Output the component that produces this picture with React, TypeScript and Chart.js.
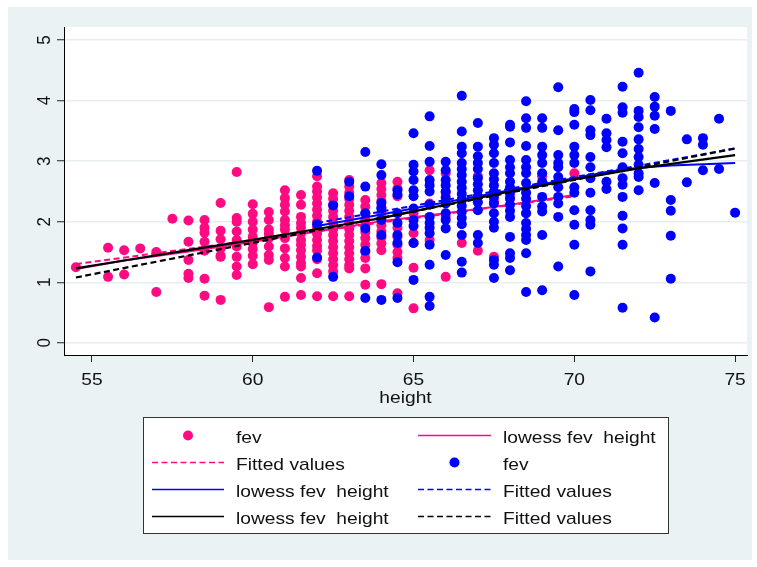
import React, { useEffect, useRef } from "react";
import { Chart, registerables } from "chart.js";

Chart.register(...registerables);

// ---------- data ----------
const xTicks = [55, 60, 65, 70, 75];
const yTicks = [0, 1, 2, 3, 4, 5];
const xTitle = "height";

const femaleHeights = [54.5, 55.5, 56, 56.5, 57, 57.5, 58, 58.5, 59, 59.5, 60, 60.5, 61, 61.5, 62, 62.5, 63, 63.5, 64, 64.5, 65, 65.5, 66, 66.5, 67, 67.5, 68, 68.5, 69, 70];
const femaleFev = [
  [1.25],
  [1.57, 1.09],
  [1.53, 1.13],
  [1.56],
  [1.5, 0.84],
  [2.05],
  [2.02, 1.67, 1.37, 1.14, 1.07],
  [2.03, 1.9, 1.82, 1.67, 1.52, 1.06, 0.78],
  [2.31, 1.85, 1.71, 1.56, 1.44, 1.42, 0.71],
  [2.82, 2.06, 2.0, 1.84, 1.7, 1.59, 1.42, 1.26, 1.12],
  [2.29, 2.13, 2.0, 1.87, 1.75, 1.65, 1.55, 1.44, 1.3],
  [2.16, 2.03, 1.87, 1.8, 1.73, 1.59, 1.45, 1.37, 0.59],
  [2.52, 2.39, 2.28, 2.17, 2.03, 1.94, 1.87, 1.73, 1.56, 1.4, 1.26, 0.76],
  [2.44, 2.28, 2.08, 1.98, 1.9, 1.81, 1.7, 1.62, 1.53, 1.42, 1.32, 1.26, 1.07, 0.79],
  [2.75, 2.58, 2.5, 2.4, 2.3, 2.2, 2.1, 2.0, 1.9, 1.8, 1.7, 1.6, 1.53, 1.38, 1.15, 0.77],
  [2.47, 2.38, 2.28, 2.18, 2.08, 1.98, 1.88, 1.78, 1.68, 1.58, 1.48, 1.38, 1.28, 1.18, 0.77],
  [2.69, 2.58, 2.48, 2.38, 2.28, 2.18, 2.08, 1.98, 1.88, 1.78, 1.68, 1.58, 1.48, 1.38, 1.28, 1.23, 0.77],
  [2.36, 2.25, 2.14, 2.03, 1.93, 1.83, 1.73, 1.62, 1.5, 1.4, 1.23, 0.96],
  [2.64, 2.54, 2.44, 2.34, 2.24, 2.14, 2.04, 1.94, 1.84, 1.74, 1.64, 1.53, 0.97],
  [2.66, 2.55, 2.42, 1.9, 1.75, 1.62, 1.5, 1.4, 0.82],
  [2.14, 1.81, 1.65, 1.24, 0.57],
  [2.85, 2.3, 1.7],
  [2.8, 2.48, 2.08, 1.09],
  [1.65],
  [2.75, 1.52],
  [2.33, 1.42],
  [2.41],
  [2.14],
  [2.75],
  [2.8],
];

const maleHeights = [62, 62.5, 63, 63.5, 64, 64.5, 65, 65.5, 66, 66.5, 67, 67.5, 68, 68.5, 69, 69.5, 70, 70.5, 71, 71.5, 72, 72.5, 73, 73.5, 74, 74.5, 75];
const maleFev = [
  [2.84, 1.96, 1.41],
  [2.27, 1.09],
  [2.66, 2.42],
  [3.15, 2.58, 2.14, 1.89, 1.52, 0.74],
  [2.95, 2.77, 2.31, 2.22, 2.03, 1.78, 0.71],
  [2.52, 2.45, 2.14, 1.98, 1.78, 1.65, 1.33, 0.74],
  [3.46, 2.94, 2.83, 2.69, 2.52, 2.42, 2.22, 2.03, 1.93, 1.65, 1.04],
  [3.74, 3.25, 2.99, 2.69, 2.6, 2.5, 2.28, 2.08, 1.98, 1.9, 1.81, 1.62, 1.29, 0.76, 0.61],
  [2.99, 2.85, 2.69, 2.6, 2.5, 2.4, 2.3, 2.14, 2.03, 1.89, 1.45],
  [4.08, 3.49, 3.24, 3.13, 2.97, 2.87, 2.77, 2.66, 2.56, 2.46, 2.36, 2.26, 2.16, 2.06, 1.96, 1.78, 1.34, 1.16],
  [3.63, 3.24, 3.08, 2.97, 2.87, 2.72, 2.62, 2.52, 2.42, 2.32, 2.19, 1.78, 1.65],
  [3.38, 3.27, 3.13, 2.97, 2.8, 2.7, 2.6, 2.5, 2.4, 2.3, 2.14, 2.0, 1.9, 1.37, 1.29, 1.07],
  [3.6, 3.57, 3.31, 3.02, 2.9, 2.8, 2.66, 2.57, 2.48, 2.38, 2.28, 2.18, 2.08, 1.75, 1.48, 1.4, 1.2],
  [3.99, 3.71, 3.55, 3.25, 3.02, 2.9, 2.8, 2.64, 2.48, 2.38, 2.26, 2.14, 1.98, 1.88, 1.78, 1.7, 1.48, 0.84],
  [3.71, 3.55, 3.24, 3.1, 2.97, 2.8, 2.66, 2.41, 2.25, 2.17, 1.78, 0.87],
  [4.22, 3.51, 3.1, 2.97, 2.9, 2.74, 2.57, 2.41, 2.3, 2.08, 1.26],
  [3.86, 3.81, 3.6, 3.24, 3.1, 2.97, 2.57, 2.48, 2.19, 1.95, 1.62, 0.79],
  [4.01, 3.84, 3.51, 3.43, 3.07, 2.9, 2.72, 2.48, 2.19, 2.03, 1.95, 1.18],
  [3.7, 3.46, 3.35, 3.23, 2.66, 2.54],
  [4.23, 3.89, 3.8, 3.32, 3.13, 2.9, 2.72, 2.61, 2.41, 2.1, 1.89, 1.62, 0.58],
  [4.46, 3.83, 3.73, 3.56, 3.36, 3.2, 3.07, 2.94, 2.8, 2.74, 2.52],
  [4.06, 3.9, 3.75, 3.53, 2.64, 0.42],
  [3.83, 2.36, 2.18, 1.77, 1.06],
  [3.36, 2.65],
  [3.38, 3.27, 2.85],
  [3.7, 2.87],
  [2.15],
];

const pinkLowessX = [54.5, 56, 58, 60, 62, 64, 66, 68, 70];
const pinkLowessY = [1.22, 1.36, 1.51, 1.67, 1.84, 2.01, 2.14, 2.28, 2.44];
const pinkFitX = [54.5, 70];
const pinkFitY = [1.3, 2.42];
const blueLowessX = [62, 64, 66, 68, 70, 71, 72, 73, 75];
const blueLowessY = [1.93, 2.12, 2.32, 2.52, 2.72, 2.82, 2.89, 2.93, 2.97];
const blueFitX = [62, 75];
const blueFitY = [1.98, 3.21];
const blackLowessX = [54.5, 56, 58, 60, 62, 64, 66, 68, 70, 72, 75];
const blackLowessY = [1.23, 1.36, 1.53, 1.7, 1.88, 2.06, 2.28, 2.5, 2.7, 2.88, 3.1];
const blackFitX = [54.5, 75];
const blackFitY = [1.08, 3.21];

const labels = ["fev", "lowess fev  height", "Fitted values", "fev", "lowess fev  height", "Fitted values", "lowess fev  height", "Fitted values"];

// ---------- styles ----------
const PINK = "#FF0A82";
const BLUE = "#0000FF";
const BLACK = "#000000";
const BG = "#EAF2F3";
const GRID = "#E6EEF0";
const TEXT = "#111111";
const FONT = "17px 'Liberation Sans', Arial, sans-serif";
const SX = 1.13;

const cols = (hs: number[], vs: number[][]) => {
  const out: { x: number; y: number }[] = [];
  hs.forEach((h, i) => vs[i].forEach((v) => out.push({ x: h, y: v })));
  return out;
};
const pts = (xs: number[], ys: number[]) => xs.map((x, i) => ({ x, y: ys[i] }));

function stretchedText(ctx: CanvasRenderingContext2D, t: string, x: number, y: number, align: CanvasTextAlign, rotate = false) {
  ctx.save();
  ctx.translate(x, y);
  ctx.scale(SX, 1);
  if (rotate) ctx.rotate(-Math.PI / 2);
  ctx.font = FONT;
  ctx.fillStyle = TEXT;
  ctx.textAlign = align;
  ctx.textBaseline = "alphabetic";
  ctx.fillText(t, 0, 0);
  ctx.restore();
}

const bgPlugin = {
  id: "stataBg",
  beforeDraw(chart: any) {
    const { ctx, chartArea: a } = chart;
    ctx.save();
    ctx.fillStyle = "#FFFFFF";
    ctx.fillRect(0, 0, chart.width, chart.height);
    ctx.fillStyle = BG;
    ctx.fillRect(8, 7, 744, 553);
    ctx.fillStyle = "#FFFFFF";
    ctx.fillRect(a.left, a.top, a.right - a.left, a.bottom - a.top);
    ctx.restore();
  },
  afterDraw(chart: any) {
    const { ctx, chartArea: a } = chart;
    const xs = chart.scales.x;
    const ys = chart.scales.y;
    yTicks.forEach((v) => stretchedText(ctx, String(v), a.left - 14.5, ys.getPixelForValue(v), "center", true));
    xTicks.forEach((v) => stretchedText(ctx, String(v), xs.getPixelForValue(v), a.bottom + 30, "center"));
    stretchedText(ctx, xTitle, (a.left + a.right) / 2, a.bottom + 47.5, "center");

    // legend
    const bx = 143, by = 417, bw = 525, bh = 116;
    ctx.save();
    ctx.fillStyle = "#FFFFFF";
    ctx.fillRect(bx, by, bw, bh);
    ctx.strokeStyle = "#333333";
    ctx.lineWidth = 1;
    ctx.strokeRect(bx + 0.5, by + 0.5, bw, bh);
    chart.data.datasets.forEach((ds: any, i: number) => {
      const row = Math.floor(i / 2);
      const col = i % 2;
      const cy = 435.5 + row * 27;
      const l0 = col ? 418 : 152;
      const l1 = col ? 491 : 224;
      const tx = col ? 503 : 236;
      if (ds.showLine) {
        ctx.save();
        ctx.strokeStyle = ds.borderColor;
        ctx.lineWidth = 1.7;
        ctx.setLineDash(ds.borderDash || []);
        ctx.beginPath();
        ctx.moveTo(l0, cy);
        ctx.lineTo(l1, cy);
        ctx.stroke();
        ctx.restore();
      } else {
        ctx.fillStyle = ds.backgroundColor;
        ctx.beginPath();
        ctx.arc((l0 + l1) / 2, cy, 5, 0, Math.PI * 2);
        ctx.fill();
      }
      stretchedText(ctx, ds.label, tx, cy + 7.5, "left");
    });
    ctx.restore();
  },
};

export default function App() {
  const ref = useRef<HTMLCanvasElement | null>(null);
  useEffect(() => {
    if (!ref.current) return;
    const scatter = (label: string, data: any[], color: string, order: number) => ({
      label, data, order, showLine: false, backgroundColor: color, borderColor: color,
      pointRadius: 5, pointBorderWidth: 0, pointHoverRadius: 5,
    });
    const line = (label: string, data: any[], color: string, dash: number[], order: number, width = 2) => ({
      label, data, order, showLine: true, borderColor: color, backgroundColor: color,
      borderWidth: width, borderDash: dash, pointRadius: 0, pointHoverRadius: 0, tension: 0, fill: false,
    });
    const chart = new Chart(ref.current, {
      type: "scatter",
      data: {
        datasets: [
          scatter(labels[0], cols(femaleHeights, femaleFev), PINK, 8),
          line(labels[1], pts(pinkLowessX, pinkLowessY), PINK, [], 7),
          line(labels[2], pts(pinkFitX, pinkFitY), PINK, [6, 3.5], 6),
          scatter(labels[3], cols(maleHeights, maleFev), BLUE, 5),
          line(labels[4], pts(blueLowessX, blueLowessY), BLUE, [], 4),
          line(labels[5], pts(blueFitX, blueFitY), BLUE, [6, 3.5], 3),
          line(labels[6], pts(blackLowessX, blackLowessY), BLACK, [], 2, 2.2),
          line(labels[7], pts(blackFitX, blackFitY), BLACK, [6, 3.5], 1, 2.2),
        ] as any,
      },
      options: {
        responsive: false,
        animation: false,
        devicePixelRatio: 1,
        layout: { padding: { left: 0, top: 27, right: 10, bottom: 167 } },
        plugins: { legend: { display: false }, tooltip: { enabled: false } },
        scales: {
          x: {
            type: "linear",
            min: 54.13,
            max: 75.37,
            afterBuildTicks: (s: any) => { s.ticks = xTicks.map((v) => ({ value: v })); },
            afterFit: (s: any) => { s.height = 45; },
            ticks: { display: false },
            grid: { drawOnChartArea: false, drawTicks: true, tickLength: 7, tickColor: "#222222", tickWidth: 1 },
            border: { display: true, color: "#000000", width: 1 },
          },
          y: {
            type: "linear",
            min: -0.2,
            max: 5.215,
            afterBuildTicks: (s: any) => { s.ticks = yTicks.map((v) => ({ value: v })); },
            afterFit: (s: any) => { s.width = 64; },
            ticks: { display: false },
            grid: { color: GRID, lineWidth: 1.5, drawTicks: true, tickLength: 7, tickColor: "#222222", tickWidth: 1 },
            border: { display: true, color: "#000000", width: 1 },
          },
        },
      } as any,
      plugins: [bgPlugin],
    });
    return () => chart.destroy();
  }, []);
  return (
    <div style={{ position: "fixed", left: 0, top: 0, width: 757, height: 567, background: "#fff" }}>
      <canvas ref={ref} width={757} height={567} style={{ display: "block" }} />
    </div>
  );
}
